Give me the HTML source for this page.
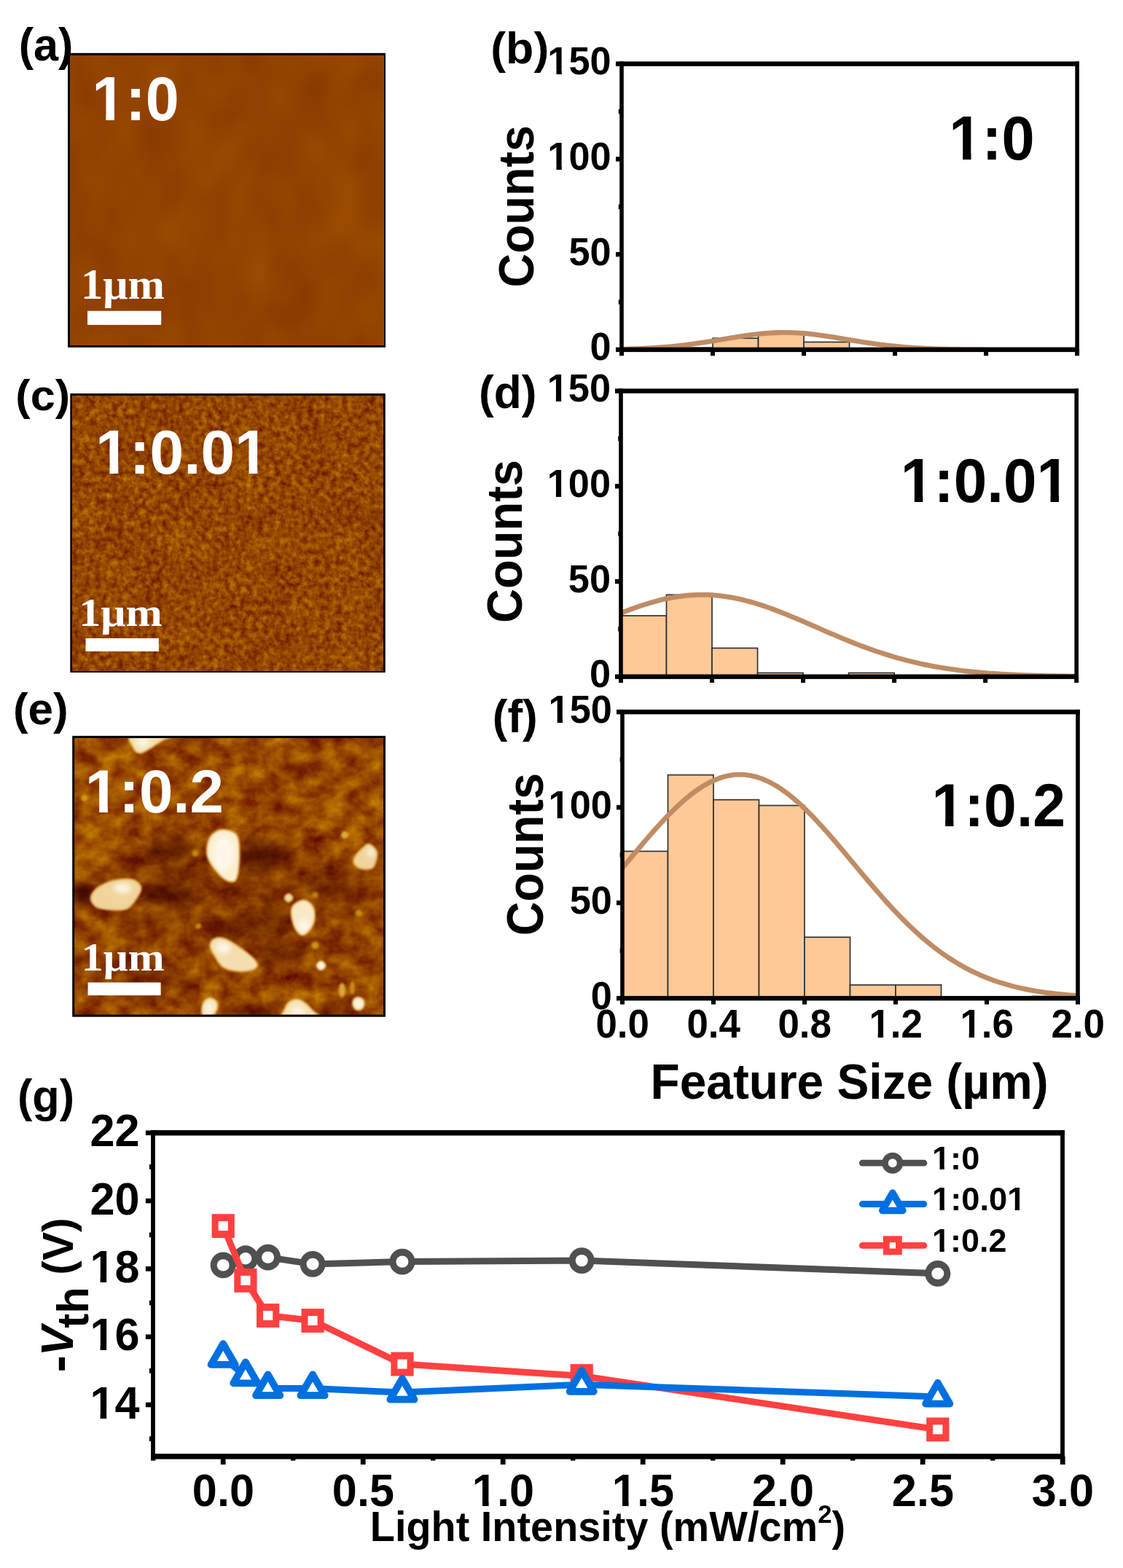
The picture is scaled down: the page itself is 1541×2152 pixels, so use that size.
<!DOCTYPE html>
<html lang="en">
<head>
<meta charset="utf-8">
<title>AFM morphology, feature size histograms and threshold voltage vs light intensity</title>
<style>
html,body{margin:0;padding:0;background:#fff;}
body{width:1541px;height:2152px;overflow:hidden;font-family:"Liberation Sans",Arial,sans-serif;}
svg{display:block;}
text{font-kerning:none;}
</style>
</head>
<body>
<svg width="1541" height="2152" viewBox="0 0 1541 2152">
<rect x="0" y="0" width="1541" height="2152" fill="#fff"/>
<defs>
<filter id="nA" x="0" y="0" width="100%" height="100%" color-interpolation-filters="sRGB">
 <feTurbulence type="fractalNoise" baseFrequency="0.016 0.011" numOctaves="2" seed="7"/>
 <feColorMatrix type="matrix" values="0.11 0 0 0 0.520  0.10 0 0 0 0.210  0 0 0 0 0  0 0 0 0 1"/>
</filter>
<filter id="nC" x="0" y="0" width="100%" height="100%" color-interpolation-filters="sRGB">
 <feTurbulence type="fractalNoise" baseFrequency="0.13" numOctaves="3" seed="3" result="t1"/>
 <feTurbulence type="fractalNoise" baseFrequency="0.022" numOctaves="2" seed="8" result="t2"/>
 <feComposite in="t1" in2="t2" operator="arithmetic" k1="0" k2="0.78" k3="0.22" k4="0" result="t3"/>
 <feColorMatrix in="t3" type="matrix" values="0.54 0 0 0 0.308  0.60 0 0 0 -0.028  0.02 0 0 0 -0.005  0 0 0 0 1"/>
</filter>
<filter id="nE" x="0" y="0" width="100%" height="100%" color-interpolation-filters="sRGB">
 <feTurbulence type="fractalNoise" baseFrequency="0.036 0.042" numOctaves="4" seed="11" result="t1"/>
 <feColorMatrix in="t1" type="matrix" values="0.50 0 0 0 0.340  0.60 0 0 0 -0.026  0.02 0 0 0 -0.01  0 0 0 0 1"/>
</filter>
<filter id="bl" x="-30%" y="-30%" width="160%" height="160%"><feGaussianBlur stdDeviation="1.8"/></filter>
<filter id="bl1" x="-30%" y="-30%" width="160%" height="160%"><feGaussianBlur stdDeviation="1.5"/></filter>
<filter id="bl3" x="-50%" y="-50%" width="200%" height="200%"><feGaussianBlur stdDeviation="3"/></filter>
<filter id="bl2" x="-150%" y="-150%" width="400%" height="400%"><feGaussianBlur stdDeviation="8"/></filter>
<clipPath id="cE"><rect x="102.2" y="1012.9" width="423.8" height="379.7"/></clipPath>
</defs>
<rect x="93" y="72.8" width="436" height="404" fill="#000"/>
<rect x="96.5" y="76.3" width="429.6" height="397.6" fill="#934300"/>
<rect x="96.5" y="76.3" width="429.6" height="397.6" fill="#934300" filter="url(#nA)"/>
<clipPath id="k1"><path clip-rule="evenodd" d="M-50,-101.92 H254.79 V42.46 H-50 Z M3.48,-10.53 H19.7 V1.66 H3.48 Z M31.6,-10.53 H46.74 V1.66 H31.6 Z"/></clipPath><text transform="translate(126.21,165.15) scale(0.9737,1)" clip-path="url(#k1)" font-family="Liberation Sans, Arial, Helvetica, sans-serif" font-weight="bold" font-size="84.93" fill="#fff">1:0</text>
<text transform="translate(110.96,409.82) scale(1.0191,1)" font-family="Liberation Serif, Times New Roman, serif" font-weight="bold" font-size="59.42" fill="#fff">1μm</text>
<rect x="120" y="426.7" width="101.2" height="19.2" fill="#fff"/>
<rect x="96.3" y="540" width="432.5" height="383" fill="#000"/>
<rect x="99.8" y="543.5" width="426.1" height="376.6" fill="#9c4e04"/>
<rect x="99.8" y="543.5" width="426.1" height="376.6" fill="#9c4e04" filter="url(#nC)"/>
<clipPath id="k2"><path clip-rule="evenodd" d="M-50,-101.75 H508.73 V42.39 H-50 Z M3.48,-10.52 H19.67 V1.66 H3.48 Z M31.55,-10.52 H46.66 V1.66 H31.55 Z M196.74,-10.52 H212.92 V1.66 H196.74 Z M224.81,-10.52 H239.92 V1.66 H224.81 Z"/></clipPath><text transform="translate(131.03,650.45) scale(0.9888,1)" clip-path="url(#k2)" font-family="Liberation Sans, Arial, Helvetica, sans-serif" font-weight="bold" font-size="84.79" fill="#fff">1:0.01</text>
<text transform="translate(108.17,859.3) scale(1.0837,1)" font-family="Liberation Serif, Times New Roman, serif" font-weight="bold" font-size="55.72" fill="#fff">1μm</text>
<rect x="117.5" y="876" width="100.4" height="18" fill="#fff"/>
<rect x="99.2" y="1009.9" width="429.8" height="385.7" fill="#000"/>
<g clip-path="url(#cE)" style="isolation:isolate">
<rect x="102.2" y="1012.9" width="423.8" height="379.7" fill="#984a02"/>
<rect x="102.2" y="1012.9" width="423.8" height="379.7" fill="#984a02" filter="url(#nE)"/>
<ellipse cx="112" cy="1228" rx="13" ry="19" fill="#b47c48" opacity="1.0" filter="url(#bl2)" style="mix-blend-mode:multiply"/>
<ellipse cx="112" cy="1228" rx="11" ry="15" fill="#b47c48" opacity="1.0" filter="url(#bl2)" style="mix-blend-mode:multiply"/>
<ellipse cx="521.5" cy="1177" rx="5" ry="13" fill="#b47c48" opacity="1.0" filter="url(#bl2)" style="mix-blend-mode:multiply"/>
<ellipse cx="521.5" cy="1177" rx="4" ry="10" fill="#b47c48" opacity="1.0" filter="url(#bl2)" style="mix-blend-mode:multiply"/>
<ellipse cx="367" cy="1171" rx="28" ry="22" fill="#b47c48" opacity="0.85" filter="url(#bl2)" style="mix-blend-mode:multiply"/>
<ellipse cx="376" cy="1260" rx="20" ry="13" fill="#b47c48" opacity="0.8" filter="url(#bl2)" style="mix-blend-mode:multiply"/>
<ellipse cx="391" cy="1313" rx="36" ry="16" fill="#b47c48" opacity="0.9" filter="url(#bl2)" style="mix-blend-mode:multiply"/>
<ellipse cx="343" cy="1386" rx="40" ry="8" fill="#b47c48" opacity="0.9" filter="url(#bl2)" style="mix-blend-mode:multiply"/>
<ellipse cx="457" cy="1385" rx="22" ry="9" fill="#b47c48" opacity="0.8" filter="url(#bl2)" style="mix-blend-mode:multiply"/>
<ellipse cx="261" cy="1019" rx="27" ry="6" fill="#b47c48" opacity="0.8" filter="url(#bl2)" style="mix-blend-mode:multiply"/>
<ellipse cx="230" cy="1163" rx="30" ry="22" fill="#b47c48" opacity="0.9" filter="url(#bl2)" style="mix-blend-mode:multiply"/>
<ellipse cx="232" cy="1228" rx="37" ry="16" fill="#b47c48" opacity="0.9" filter="url(#bl2)" style="mix-blend-mode:multiply"/>
<ellipse cx="345" cy="1178" rx="14" ry="22" fill="#b47c48" opacity="0.7" filter="url(#bl2)" style="mix-blend-mode:multiply"/>
<ellipse cx="330" cy="1273" rx="28" ry="14" fill="#b47c48" opacity="0.6" filter="url(#bl2)" style="mix-blend-mode:multiply"/>
<ellipse cx="415" cy="1058" rx="22" ry="10" fill="#b47c48" opacity="0.5" filter="url(#bl2)" style="mix-blend-mode:multiply"/>
<ellipse cx="190" cy="1340" rx="70" ry="40" fill="#b47c48" opacity="0.35" filter="url(#bl2)" style="mix-blend-mode:multiply"/>
<ellipse cx="470" cy="1300" rx="40" ry="12" fill="#b47c48" opacity="0.4" filter="url(#bl2)" style="mix-blend-mode:multiply"/>
<ellipse cx="455" cy="1215" rx="36" ry="12" fill="#b47c48" opacity="0.5" filter="url(#bl2)" style="mix-blend-mode:multiply"/>
<ellipse cx="250" cy="1352" rx="30" ry="9" fill="#b47c48" opacity="0.4" filter="url(#bl2)" style="mix-blend-mode:multiply"/>
<ellipse cx="310" cy="1225" rx="200" ry="75" fill="#b47c48" opacity="0.4" filter="url(#bl2)" style="mix-blend-mode:multiply"/>
<ellipse cx="120" cy="1165" rx="20" ry="34" fill="#4a3000" opacity="0.7" filter="url(#bl2)" style="mix-blend-mode:screen"/>
<ellipse cx="150" cy="1085" rx="40" ry="40" fill="#4a3000" opacity="0.3" filter="url(#bl2)" style="mix-blend-mode:screen"/>
<ellipse cx="450" cy="1090" rx="60" ry="30" fill="#4a3000" opacity="0.15" filter="url(#bl2)" style="mix-blend-mode:screen"/>
<ellipse cx="205" cy="1262" rx="44" ry="12" fill="#4a3000" opacity="0.25" filter="url(#bl2)" style="mix-blend-mode:screen"/>
<ellipse cx="480" cy="1250" rx="30" ry="22" fill="#4a3000" opacity="0.2" filter="url(#bl2)" style="mix-blend-mode:screen"/>
<ellipse cx="340" cy="1100" rx="60" ry="20" fill="#4a3000" opacity="0.12" filter="url(#bl2)" style="mix-blend-mode:screen"/>
<ellipse cx="410" cy="1210" rx="40" ry="12" fill="#4a3000" opacity="0.25" filter="url(#bl2)" style="mix-blend-mode:screen"/>
<ellipse cx="473.2" cy="1146" rx="5" ry="5" fill="#e0a840" filter="url(#bl)"/>
<ellipse cx="492.3" cy="1253.3" rx="4.5" ry="4.5" fill="#c88c0c" filter="url(#bl)"/>
<ellipse cx="432.5" cy="1228.6" rx="4" ry="4" fill="#c08400" filter="url(#bl)"/>
<ellipse cx="432.6" cy="1297.5" rx="5" ry="5" fill="#d09414" filter="url(#bl)"/>
<ellipse cx="469.4" cy="1358.8" rx="4.5" ry="10" fill="#dca83c" filter="url(#bl)"/>
<ellipse cx="483.4" cy="1355.3" rx="3.5" ry="9" fill="#c88c14" filter="url(#bl)"/>
<ellipse cx="116" cy="1095.2" rx="4.5" ry="4.5" fill="#d49818" filter="url(#bl)"/>
<ellipse cx="272" cy="1271" rx="4" ry="4" fill="#c48808" filter="url(#bl)"/>
<ellipse cx="268" cy="1171" rx="4.5" ry="4.5" fill="#c48808" filter="url(#bl)"/>
<path d="M180.9,1009 C189.22,1006.17 226.55,1007.83 233.4,1009 C240.25,1010.17 226.9,1012.92 222,1016 C217.1,1019.08 209.1,1024.67 204,1027.5 C198.9,1030.33 194.82,1033.25 191.4,1033 C187.98,1032.75 185.25,1030 183.5,1026 C181.75,1022 172.58,1011.83 180.9,1009 Z" fill="#dca040" stroke="#dca040" stroke-width="3" stroke-linejoin="round" filter="url(#bl)"/>
<path d="M180.9,1009 C189.22,1006.17 226.55,1007.83 233.4,1009 C240.25,1010.17 226.9,1012.92 222,1016 C217.1,1019.08 209.1,1024.67 204,1027.5 C198.9,1030.33 194.82,1033.25 191.4,1033 C187.98,1032.75 185.25,1030 183.5,1026 C181.75,1022 172.58,1011.83 180.9,1009 Z" fill="#f4e0b0" filter="url(#bl1)"/>
<ellipse cx="196" cy="1019" rx="9" ry="7" fill="#fffaf0" opacity="0.8" filter="url(#bl3)"/>
<path d="M290.7,1146.9 C294.22,1142.83 300.18,1139.3 305.8,1139.3 C311.42,1139.3 320.73,1141.13 324.4,1146.9 C328.07,1152.67 327.8,1164.35 327.8,1173.9 C327.8,1183.45 326.37,1198.3 324.4,1204.2 C322.43,1210.1 319.65,1209.85 316,1209.3 C312.35,1208.75 307.28,1205.68 302.5,1200.9 C297.72,1196.12 290.27,1186.8 287.3,1180.6 C284.33,1174.4 284.13,1169.32 284.7,1163.7 C285.27,1158.08 287.18,1150.97 290.7,1146.9 Z" fill="#dca040" stroke="#dca040" stroke-width="3" stroke-linejoin="round" filter="url(#bl)"/>
<path d="M290.7,1146.9 C294.22,1142.83 300.18,1139.3 305.8,1139.3 C311.42,1139.3 320.73,1141.13 324.4,1146.9 C328.07,1152.67 327.8,1164.35 327.8,1173.9 C327.8,1183.45 326.37,1198.3 324.4,1204.2 C322.43,1210.1 319.65,1209.85 316,1209.3 C312.35,1208.75 307.28,1205.68 302.5,1200.9 C297.72,1196.12 290.27,1186.8 287.3,1180.6 C284.33,1174.4 284.13,1169.32 284.7,1163.7 C285.27,1158.08 287.18,1150.97 290.7,1146.9 Z" fill="#fbeed0" filter="url(#bl1)"/>
<ellipse cx="307" cy="1172" rx="13" ry="24" fill="#fffaf0" opacity="0.8" filter="url(#bl3)"/>
<path d="M125.3,1232.9 C125.3,1228.68 128.63,1223.33 133.7,1219.4 C138.77,1215.47 147.82,1211.27 155.7,1209.3 C163.58,1207.33 174.82,1206.2 181,1207.6 C187.18,1209 191.68,1213.77 192.8,1217.7 C193.92,1221.63 190.8,1226.42 187.7,1231.2 C184.6,1235.98 179.82,1243.58 174.2,1246.4 C168.58,1249.22 160.75,1248.38 154,1248.1 C147.25,1247.82 138.48,1247.23 133.7,1244.7 C128.92,1242.17 125.3,1237.12 125.3,1232.9 Z" fill="#dca040" stroke="#dca040" stroke-width="3" stroke-linejoin="round" filter="url(#bl)"/>
<path d="M125.3,1232.9 C125.3,1228.68 128.63,1223.33 133.7,1219.4 C138.77,1215.47 147.82,1211.27 155.7,1209.3 C163.58,1207.33 174.82,1206.2 181,1207.6 C187.18,1209 191.68,1213.77 192.8,1217.7 C193.92,1221.63 190.8,1226.42 187.7,1231.2 C184.6,1235.98 179.82,1243.58 174.2,1246.4 C168.58,1249.22 160.75,1248.38 154,1248.1 C147.25,1247.82 138.48,1247.23 133.7,1244.7 C128.92,1242.17 125.3,1237.12 125.3,1232.9 Z" fill="#f0d49c" filter="url(#bl1)"/>
<ellipse cx="168" cy="1219" rx="12" ry="7" fill="#fffaf0" opacity="0.8" filter="url(#bl3)"/>
<path d="M506.5,1159 C509.58,1159.83 514.87,1165.7 516.3,1169.5 C517.73,1173.3 516.13,1178.22 515.1,1181.8 C514.07,1185.38 513.38,1189.37 510.1,1191 C506.82,1192.63 499.4,1192.72 495.4,1191.6 C491.4,1190.48 487.33,1186.97 486.1,1184.3 C484.87,1181.63 486.05,1178.9 488,1175.6 C489.95,1172.3 494.72,1167.27 497.8,1164.5 C500.88,1161.73 503.42,1158.17 506.5,1159 Z" fill="#dca040" stroke="#dca040" stroke-width="3" stroke-linejoin="round" filter="url(#bl)"/>
<path d="M506.5,1159 C509.58,1159.83 514.87,1165.7 516.3,1169.5 C517.73,1173.3 516.13,1178.22 515.1,1181.8 C514.07,1185.38 513.38,1189.37 510.1,1191 C506.82,1192.63 499.4,1192.72 495.4,1191.6 C491.4,1190.48 487.33,1186.97 486.1,1184.3 C484.87,1181.63 486.05,1178.9 488,1175.6 C489.95,1172.3 494.72,1167.27 497.8,1164.5 C500.88,1161.73 503.42,1158.17 506.5,1159 Z" fill="#f0d49c" filter="url(#bl1)"/>
<ellipse cx="508.9" cy="1169.5" rx="5" ry="6" fill="#fffaf0" opacity="0.8" filter="url(#bl3)"/>
<path d="M415.2,1236 C419.32,1235.38 423.63,1238.12 426.3,1241 C428.97,1243.88 430.78,1248.58 431.2,1253.3 C431.62,1258.02 431.27,1264.37 428.8,1269.3 C426.33,1274.23 420.1,1281.87 416.4,1282.9 C412.7,1283.93 409.17,1279.4 406.6,1275.5 C404.03,1271.6 401.83,1264.63 401,1259.5 C400.17,1254.37 399.23,1248.62 401.6,1244.7 C403.97,1240.78 411.08,1236.62 415.2,1236 Z" fill="#dca040" stroke="#dca040" stroke-width="3" stroke-linejoin="round" filter="url(#bl)"/>
<path d="M415.2,1236 C419.32,1235.38 423.63,1238.12 426.3,1241 C428.97,1243.88 430.78,1248.58 431.2,1253.3 C431.62,1258.02 431.27,1264.37 428.8,1269.3 C426.33,1274.23 420.1,1281.87 416.4,1282.9 C412.7,1283.93 409.17,1279.4 406.6,1275.5 C404.03,1271.6 401.83,1264.63 401,1259.5 C400.17,1254.37 399.23,1248.62 401.6,1244.7 C403.97,1240.78 411.08,1236.62 415.2,1236 Z" fill="#f8e8c4" filter="url(#bl1)"/>
<ellipse cx="416" cy="1270" rx="8" ry="8" fill="#fffaf0" opacity="0.8" filter="url(#bl3)"/>
<path d="M295,1288.8 C298.37,1287.48 302.67,1286.98 309.1,1289.6 C315.53,1292.22 326.6,1299.38 333.6,1304.5 C340.6,1309.62 348.47,1316.2 351.1,1320.3 C353.73,1324.4 352.9,1327.05 349.4,1329.1 C345.9,1331.15 337.12,1332.9 330.1,1332.6 C323.08,1332.3 313.15,1330.82 307.3,1327.3 C301.45,1323.78 298.07,1316.47 295,1311.5 C291.93,1306.53 288.9,1301.28 288.9,1297.5 C288.9,1293.72 291.63,1290.12 295,1288.8 Z" fill="#dca040" stroke="#dca040" stroke-width="3" stroke-linejoin="round" filter="url(#bl)"/>
<path d="M295,1288.8 C298.37,1287.48 302.67,1286.98 309.1,1289.6 C315.53,1292.22 326.6,1299.38 333.6,1304.5 C340.6,1309.62 348.47,1316.2 351.1,1320.3 C353.73,1324.4 352.9,1327.05 349.4,1329.1 C345.9,1331.15 337.12,1332.9 330.1,1332.6 C323.08,1332.3 313.15,1330.82 307.3,1327.3 C301.45,1323.78 298.07,1316.47 295,1311.5 C291.93,1306.53 288.9,1301.28 288.9,1297.5 C288.9,1293.72 291.63,1290.12 295,1288.8 Z" fill="#f4deb0" filter="url(#bl1)"/>
<ellipse cx="306" cy="1301" rx="10" ry="8" fill="#fffaf0" opacity="0.8" filter="url(#bl3)"/>
<path d="M287.7,1370.2 C290.28,1370.03 294.28,1372.03 296,1374 C297.72,1375.97 298.33,1379.17 298,1382 C297.67,1384.83 295.83,1388.67 294,1391 C292.17,1393.33 289.33,1395.17 287,1396 C284.67,1396.83 281.58,1397.67 280,1396 C278.42,1394.33 277.42,1389.5 277.5,1386 C277.58,1382.5 278.8,1377.63 280.5,1375 C282.2,1372.37 285.12,1370.37 287.7,1370.2 Z" fill="#dca040" stroke="#dca040" stroke-width="3" stroke-linejoin="round" filter="url(#bl)"/>
<path d="M287.7,1370.2 C290.28,1370.03 294.28,1372.03 296,1374 C297.72,1375.97 298.33,1379.17 298,1382 C297.67,1384.83 295.83,1388.67 294,1391 C292.17,1393.33 289.33,1395.17 287,1396 C284.67,1396.83 281.58,1397.67 280,1396 C278.42,1394.33 277.42,1389.5 277.5,1386 C277.58,1382.5 278.8,1377.63 280.5,1375 C282.2,1372.37 285.12,1370.37 287.7,1370.2 Z" fill="#f6e4b8" filter="url(#bl1)"/>
<ellipse cx="287" cy="1384" rx="5" ry="7" fill="#fffaf0" opacity="0.8" filter="url(#bl3)"/>
<path d="M389.7,1398 C382.2,1396 389.83,1389.67 391,1386 C392.17,1382.33 394,1378.33 396.7,1376 C399.4,1373.67 403.7,1371.93 407.2,1372 C410.7,1372.07 414.2,1373.92 417.7,1376.4 C421.2,1378.88 425.15,1383.3 428.2,1386.9 C431.25,1390.5 442.42,1396.15 436,1398 C429.58,1399.85 397.2,1400 389.7,1398 Z" fill="#dca040" stroke="#dca040" stroke-width="3" stroke-linejoin="round" filter="url(#bl)"/>
<path d="M389.7,1398 C382.2,1396 389.83,1389.67 391,1386 C392.17,1382.33 394,1378.33 396.7,1376 C399.4,1373.67 403.7,1371.93 407.2,1372 C410.7,1372.07 414.2,1373.92 417.7,1376.4 C421.2,1378.88 425.15,1383.3 428.2,1386.9 C431.25,1390.5 442.42,1396.15 436,1398 C429.58,1399.85 397.2,1400 389.7,1398 Z" fill="#f6e2b4" filter="url(#bl1)"/>
<ellipse cx="408" cy="1388" rx="10" ry="6" fill="#fffaf0" opacity="0.8" filter="url(#bl3)"/>
<path d="M491.6,1369.2 C493.67,1369.37 497.23,1371.03 498.4,1373 C499.57,1374.97 499.33,1378.93 498.6,1381 C497.87,1383.07 495.77,1384.8 494,1385.4 C492.23,1386 489.57,1385.83 488,1384.6 C486.43,1383.37 484.93,1380.1 484.6,1378 C484.27,1375.9 484.83,1373.47 486,1372 C487.17,1370.53 489.53,1369.03 491.6,1369.2 Z" fill="#dca040" stroke="#dca040" stroke-width="3" stroke-linejoin="round" filter="url(#bl)"/>
<path d="M491.6,1369.2 C493.67,1369.37 497.23,1371.03 498.4,1373 C499.57,1374.97 499.33,1378.93 498.6,1381 C497.87,1383.07 495.77,1384.8 494,1385.4 C492.23,1386 489.57,1385.83 488,1384.6 C486.43,1383.37 484.93,1380.1 484.6,1378 C484.27,1375.9 484.83,1373.47 486,1372 C487.17,1370.53 489.53,1369.03 491.6,1369.2 Z" fill="#faecd0" filter="url(#bl1)"/>
<ellipse cx="491.6" cy="1377" rx="3.5" ry="4.5" fill="#fffaf0" opacity="0.8" filter="url(#bl3)"/>
<path d="M440.5,1319.6 C442.37,1319.6 446.1,1323.33 446.1,1325.2 C446.1,1327.07 442.37,1330.8 440.5,1330.8 C438.63,1330.8 434.9,1327.07 434.9,1325.2 C434.9,1323.33 438.63,1319.6 440.5,1319.6 Z" fill="#dca040" stroke="#dca040" stroke-width="3" stroke-linejoin="round" filter="url(#bl)"/>
<path d="M440.5,1319.6 C442.37,1319.6 446.1,1323.33 446.1,1325.2 C446.1,1327.07 442.37,1330.8 440.5,1330.8 C438.63,1330.8 434.9,1327.07 434.9,1325.2 C434.9,1323.33 438.63,1319.6 440.5,1319.6 Z" fill="#fdf4e0" filter="url(#bl1)"/>
<ellipse cx="440.5" cy="1325.2" rx="3" ry="3" fill="#fffaf0" opacity="0.8" filter="url(#bl3)"/>
<path d="M396.1,1227.3 C397.77,1227.3 401.1,1230.63 401.1,1232.3 C401.1,1233.97 397.77,1237.3 396.1,1237.3 C394.43,1237.3 391.1,1233.97 391.1,1232.3 C391.1,1230.63 394.43,1227.3 396.1,1227.3 Z" fill="#dca040" stroke="#dca040" stroke-width="3" stroke-linejoin="round" filter="url(#bl)"/>
<path d="M396.1,1227.3 C397.77,1227.3 401.1,1230.63 401.1,1232.3 C401.1,1233.97 397.77,1237.3 396.1,1237.3 C394.43,1237.3 391.1,1233.97 391.1,1232.3 C391.1,1230.63 394.43,1227.3 396.1,1227.3 Z" fill="#f0d498" filter="url(#bl1)"/>
<ellipse cx="396.1" cy="1232.3" rx="2" ry="2" fill="#fffaf0" opacity="0.8" filter="url(#bl3)"/>
</g>
<clipPath id="k3"><path clip-rule="evenodd" d="M-50,-99.72 H415.49 V41.55 H-50 Z M3.41,-10.31 H19.27 V1.62 H3.41 Z M30.92,-10.31 H45.73 V1.62 H30.92 Z"/></clipPath><text transform="translate(116.86,1115.47) scale(1.0032,1)" clip-path="url(#k3)" font-family="Liberation Sans, Arial, Helvetica, sans-serif" font-weight="bold" font-size="83.1" fill="#fff">1:0.2</text>
<text transform="translate(111.8,1331.57) scale(1.1019,1)" font-family="Liberation Serif, Times New Roman, serif" font-weight="bold" font-size="54.45" fill="#fff">1μm</text>
<rect x="120.6" y="1348.4" width="100" height="17.7" fill="#fff"/>
<rect x="915.51" y="477.28" width="62.51" height="2.62" fill="#fec996" stroke="#2c3438" stroke-width="1.7"/>
<rect x="978.02" y="464.21" width="62.51" height="15.69" fill="#fec996" stroke="#2c3438" stroke-width="1.7"/>
<rect x="1040.53" y="456.36" width="62.51" height="23.54" fill="#fec996" stroke="#2c3438" stroke-width="1.7"/>
<rect x="1103.04" y="469.44" width="62.51" height="10.46" fill="#fec996" stroke="#2c3438" stroke-width="1.7"/>
<clipPath id="cpb"><rect x="853" y="87.6" width="625.1" height="392.3"/></clipPath>
<polyline clip-path="url(#cpb)" points="853,479.19 858.21,479.07 863.42,478.93 868.63,478.77 873.84,478.58 879.05,478.38 884.25,478.14 889.46,477.88 894.67,477.59 899.88,477.26 905.09,476.91 910.3,476.51 915.51,476.08 920.72,475.61 925.93,475.11 931.14,474.56 936.35,473.97 941.56,473.34 946.76,472.68 951.97,471.97 957.18,471.23 962.39,470.46 967.6,469.66 972.81,468.83 978.02,467.98 983.23,467.12 988.44,466.24 993.65,465.36 998.86,464.48 1004.07,463.61 1009.27,462.76 1014.48,461.93 1019.69,461.13 1024.9,460.37 1030.11,459.66 1035.32,459 1040.53,458.4 1045.74,457.87 1050.95,457.41 1056.16,457.03 1061.37,456.74 1066.58,456.52 1071.78,456.4 1076.99,456.36 1082.2,456.42 1087.41,456.56 1092.62,456.79 1097.83,457.1 1103.04,457.5 1108.25,457.97 1113.46,458.52 1118.67,459.13 1123.88,459.8 1129.09,460.52 1134.3,461.29 1139.5,462.09 1144.71,462.93 1149.92,463.78 1155.13,464.66 1160.34,465.54 1165.55,466.42 1170.76,467.29 1175.97,468.15 1181.18,469 1186.39,469.82 1191.6,470.62 1196.8,471.38 1202.01,472.12 1207.22,472.81 1212.43,473.47 1217.64,474.09 1222.85,474.67 1228.06,475.21 1233.27,475.71 1238.48,476.17 1243.69,476.59 1248.9,476.98 1254.11,477.33 1259.32,477.65 1264.52,477.93 1269.73,478.19 1274.94,478.42 1280.15,478.62 1285.36,478.8 1290.57,478.96 1295.78,479.1 1300.99,479.22 1306.2,479.32 1311.41,479.41 1316.62,479.49 1321.82,479.56 1327.03,479.61 1332.24,479.66 1337.45,479.7 1342.66,479.74 1347.87,479.77 1353.08,479.79 1358.29,479.81 1363.5,479.83 1368.71,479.84 1373.92,479.85 1379.13,479.86 1384.34,479.87 1389.54,479.88 1394.75,479.88 1399.96,479.88 1405.17,479.89 1410.38,479.89 1415.59,479.89 1420.8,479.89 1426.01,479.9 1431.22,479.9 1436.43,479.9 1441.64,479.9 1446.84,479.9 1452.05,479.9 1457.26,479.9 1462.47,479.9 1467.68,479.9 1472.89,479.9 1478.1,479.9" fill="none" stroke="#bf8c64" stroke-width="6.8" stroke-linejoin="round"/>
<rect x="850.2" y="84.4" width="5.6" height="398.7" fill="#000"/>
<rect x="1475.3" y="84.4" width="5.6" height="398.7" fill="#000"/>
<rect x="850.2" y="84.4" width="630.7" height="6.4" fill="#000"/>
<rect x="850.2" y="476.7" width="630.7" height="6.4" fill="#000"/>
<rect x="845" y="476.7" width="8" height="6.4" fill="#000"/>
<rect x="845" y="345.93" width="8" height="6.4" fill="#000"/>
<rect x="845" y="215.17" width="8" height="6.4" fill="#000"/>
<rect x="845" y="84.4" width="8" height="6.4" fill="#000"/>
<rect x="848.8" y="411.32" width="4.2" height="6.4" fill="#000"/>
<rect x="848.8" y="280.55" width="4.2" height="6.4" fill="#000"/>
<rect x="848.8" y="149.78" width="4.2" height="6.4" fill="#000"/>
<rect x="850" y="479.9" width="6" height="8.4" fill="#000"/>
<rect x="975.02" y="479.9" width="6" height="8.4" fill="#000"/>
<rect x="1100.04" y="479.9" width="6" height="8.4" fill="#000"/>
<rect x="1225.06" y="479.9" width="6" height="8.4" fill="#000"/>
<rect x="1350.08" y="479.9" width="6" height="8.4" fill="#000"/>
<rect x="1475.1" y="479.9" width="6" height="8.4" fill="#000"/>
<text transform="translate(809.52,494.3) scale(0.9720,1)" font-family="Liberation Sans, Arial, Helvetica, sans-serif" font-weight="bold" font-size="53.8" fill="#000">0</text>
<text transform="translate(780.43,363.53) scale(0.9720,1)" font-family="Liberation Sans, Arial, Helvetica, sans-serif" font-weight="bold" font-size="53.8" fill="#000">50</text>
<clipPath id="k4"><path clip-rule="evenodd" d="M-50,-64.56 H161.4 V26.9 H-50 Z M2.21,-6.67 H12.48 V1.05 H2.21 Z M20.02,-6.67 H29.61 V1.05 H20.02 Z"/></clipPath><text transform="translate(751.35,232.77) scale(0.9720,1)" clip-path="url(#k4)" font-family="Liberation Sans, Arial, Helvetica, sans-serif" font-weight="bold" font-size="53.8" fill="#000">100</text>
<clipPath id="k5"><path clip-rule="evenodd" d="M-50,-64.56 H161.4 V26.9 H-50 Z M2.21,-6.67 H12.48 V1.05 H2.21 Z M20.02,-6.67 H29.61 V1.05 H20.02 Z"/></clipPath><text transform="translate(751.35,102) scale(0.9720,1)" clip-path="url(#k5)" font-family="Liberation Sans, Arial, Helvetica, sans-serif" font-weight="bold" font-size="53.8" fill="#000">150</text>
<clipPath id="k6"><path clip-rule="evenodd" d="M-50,-101.24 H253.1 V42.18 H-50 Z M3.46,-10.46 H19.57 V1.65 H3.46 Z M31.39,-10.46 H46.43 V1.65 H31.39 Z"/></clipPath><text transform="translate(1302.32,218.76) scale(0.9625,1)" clip-path="url(#k6)" font-family="Liberation Sans, Arial, Helvetica, sans-serif" font-weight="bold" font-size="84.37" fill="#000">1:0</text>
<text transform="translate(732.21,394.48) rotate(-90) scale(0.9396,1)" font-family="Liberation Sans, Arial, Helvetica, sans-serif" font-weight="bold" font-size="68.73" fill="#000">Counts</text>
<rect x="852" y="845.05" width="62.52" height="83.65" fill="#fec996" stroke="#2c3438" stroke-width="1.7"/>
<rect x="914.52" y="816.3" width="62.52" height="112.4" fill="#fec996" stroke="#2c3438" stroke-width="1.7"/>
<rect x="977.04" y="889.49" width="62.52" height="39.21" fill="#fec996" stroke="#2c3438" stroke-width="1.7"/>
<rect x="1039.56" y="923.47" width="62.52" height="5.23" fill="#fec996" stroke="#2c3438" stroke-width="1.7"/>
<rect x="1164.6" y="923.47" width="62.52" height="5.23" fill="#fec996" stroke="#2c3438" stroke-width="1.7"/>
<clipPath id="cpd"><rect x="852" y="536.6" width="625.2" height="392.1"/></clipPath>
<polyline clip-path="url(#cpd)" points="852,841.46 857.21,839.42 862.42,837.43 867.63,835.49 872.84,833.63 878.05,831.83 883.26,830.11 888.47,828.46 893.68,826.91 898.89,825.44 904.1,824.07 909.31,822.8 914.52,821.64 919.73,820.58 924.94,819.63 930.15,818.8 935.36,818.08 940.57,817.48 945.78,817 950.99,816.65 956.2,816.41 961.41,816.31 966.62,816.32 971.83,816.47 977.04,816.73 982.25,817.12 987.46,817.63 992.67,818.27 997.88,819.02 1003.09,819.88 1008.3,820.86 1013.51,821.95 1018.72,823.15 1023.93,824.45 1029.14,825.84 1034.35,827.34 1039.56,828.92 1044.77,830.58 1049.98,832.32 1055.19,834.14 1060.4,836.03 1065.61,837.98 1070.82,839.99 1076.03,842.05 1081.24,844.15 1086.45,846.3 1091.66,848.48 1096.87,850.69 1102.08,852.92 1107.29,855.17 1112.5,857.44 1117.71,859.71 1122.92,861.98 1128.13,864.25 1133.34,866.51 1138.55,868.76 1143.76,870.99 1148.97,873.2 1154.18,875.38 1159.39,877.54 1164.6,879.66 1169.81,881.75 1175.02,883.8 1180.23,885.8 1185.44,887.76 1190.65,889.68 1195.86,891.55 1201.07,893.37 1206.28,895.13 1211.49,896.84 1216.7,898.5 1221.91,900.11 1227.12,901.66 1232.33,903.15 1237.54,904.59 1242.75,905.97 1247.96,907.3 1253.17,908.57 1258.38,909.79 1263.59,910.95 1268.8,912.06 1274.01,913.12 1279.22,914.13 1284.43,915.08 1289.64,915.99 1294.85,916.85 1300.06,917.67 1305.27,918.44 1310.48,919.17 1315.69,919.85 1320.9,920.5 1326.11,921.1 1331.32,921.67 1336.53,922.21 1341.74,922.71 1346.95,923.17 1352.16,923.61 1357.37,924.02 1362.58,924.4 1367.79,924.75 1373,925.08 1378.21,925.39 1383.42,925.67 1388.63,925.93 1393.84,926.17 1399.05,926.39 1404.26,926.6 1409.47,926.79 1414.68,926.96 1419.89,927.12 1425.1,927.27 1430.31,927.41 1435.52,927.53 1440.73,927.64 1445.94,927.74 1451.15,927.84 1456.36,927.92 1461.57,928 1466.78,928.07 1471.99,928.14 1477.2,928.2" fill="none" stroke="#bf8c64" stroke-width="6.8" stroke-linejoin="round"/>
<rect x="849.2" y="533.4" width="5.6" height="398.5" fill="#000"/>
<rect x="1474.4" y="533.4" width="5.6" height="398.5" fill="#000"/>
<rect x="849.2" y="533.4" width="630.8" height="6.4" fill="#000"/>
<rect x="849.2" y="925.5" width="630.8" height="6.4" fill="#000"/>
<rect x="844" y="925.5" width="8" height="6.4" fill="#000"/>
<rect x="844" y="794.8" width="8" height="6.4" fill="#000"/>
<rect x="844" y="664.1" width="8" height="6.4" fill="#000"/>
<rect x="844" y="533.4" width="8" height="6.4" fill="#000"/>
<rect x="848.2" y="860.15" width="3.8" height="6.4" fill="#000"/>
<rect x="848.2" y="729.45" width="3.8" height="6.4" fill="#000"/>
<rect x="848.2" y="598.75" width="3.8" height="6.4" fill="#000"/>
<rect x="849" y="928.7" width="6" height="8.4" fill="#000"/>
<rect x="974.04" y="928.7" width="6" height="8.4" fill="#000"/>
<rect x="1099.08" y="928.7" width="6" height="8.4" fill="#000"/>
<rect x="1224.12" y="928.7" width="6" height="8.4" fill="#000"/>
<rect x="1349.16" y="928.7" width="6" height="8.4" fill="#000"/>
<rect x="1474.2" y="928.7" width="6" height="8.4" fill="#000"/>
<text transform="translate(808.92,943.3) scale(0.9720,1)" font-family="Liberation Sans, Arial, Helvetica, sans-serif" font-weight="bold" font-size="53.8" fill="#000">0</text>
<text transform="translate(779.83,812.6) scale(0.9720,1)" font-family="Liberation Sans, Arial, Helvetica, sans-serif" font-weight="bold" font-size="53.8" fill="#000">50</text>
<clipPath id="k7"><path clip-rule="evenodd" d="M-50,-64.56 H161.4 V26.9 H-50 Z M2.21,-6.67 H12.48 V1.05 H2.21 Z M20.02,-6.67 H29.61 V1.05 H20.02 Z"/></clipPath><text transform="translate(750.75,681.9) scale(0.9720,1)" clip-path="url(#k7)" font-family="Liberation Sans, Arial, Helvetica, sans-serif" font-weight="bold" font-size="53.8" fill="#000">100</text>
<clipPath id="k8"><path clip-rule="evenodd" d="M-50,-64.56 H161.4 V26.9 H-50 Z M2.21,-6.67 H12.48 V1.05 H2.21 Z M20.02,-6.67 H29.61 V1.05 H20.02 Z"/></clipPath><text transform="translate(750.75,551.2) scale(0.9720,1)" clip-path="url(#k8)" font-family="Liberation Sans, Arial, Helvetica, sans-serif" font-weight="bold" font-size="53.8" fill="#000">150</text>
<clipPath id="k9"><path clip-rule="evenodd" d="M-50,-102.08 H510.42 V42.54 H-50 Z M3.49,-10.55 H19.73 V1.66 H3.49 Z M31.65,-10.55 H46.81 V1.66 H31.65 Z M197.39,-10.55 H213.63 V1.66 H197.39 Z M225.55,-10.55 H240.71 V1.66 H225.55 Z"/></clipPath><text transform="translate(1235.87,689.35) scale(0.9627,1)" clip-path="url(#k9)" font-family="Liberation Sans, Arial, Helvetica, sans-serif" font-weight="bold" font-size="85.07" fill="#000">1:0.01</text>
<text transform="translate(715.51,855) rotate(-90) scale(0.9370,1)" font-family="Liberation Sans, Arial, Helvetica, sans-serif" font-weight="bold" font-size="69.44" fill="#000">Counts</text>
<rect x="854" y="1168.36" width="62.5" height="201.74" fill="#fec996" stroke="#2c3438" stroke-width="1.7"/>
<rect x="916.5" y="1063.56" width="62.5" height="306.54" fill="#fec996" stroke="#2c3438" stroke-width="1.7"/>
<rect x="979" y="1097.62" width="62.5" height="272.48" fill="#fec996" stroke="#2c3438" stroke-width="1.7"/>
<rect x="1041.5" y="1105.48" width="62.5" height="264.62" fill="#fec996" stroke="#2c3438" stroke-width="1.7"/>
<rect x="1104" y="1286.26" width="62.5" height="83.84" fill="#fec996" stroke="#2c3438" stroke-width="1.7"/>
<rect x="1166.5" y="1351.76" width="62.5" height="18.34" fill="#fec996" stroke="#2c3438" stroke-width="1.7"/>
<rect x="1229" y="1351.76" width="62.5" height="18.34" fill="#fec996" stroke="#2c3438" stroke-width="1.7"/>
<rect x="1416.5" y="1367.48" width="62.5" height="2.62" fill="#fec996" stroke="#2c3438" stroke-width="1.7"/>
<clipPath id="cpf"><rect x="854" y="977.1" width="625" height="393"/></clipPath>
<polyline clip-path="url(#cpf)" points="854,1191.36 859.21,1185.11 864.42,1178.85 869.62,1172.61 874.83,1166.39 880.04,1160.21 885.25,1154.09 890.46,1148.04 895.67,1142.08 900.88,1136.22 906.08,1130.48 911.29,1124.88 916.5,1119.44 921.71,1114.16 926.92,1109.06 932.12,1104.16 937.33,1099.48 942.54,1095.03 947.75,1090.81 952.96,1086.86 958.17,1083.17 963.38,1079.76 968.58,1076.64 973.79,1073.83 979,1071.32 984.21,1069.13 989.42,1067.27 994.62,1065.74 999.83,1064.55 1005.04,1063.7 1010.25,1063.2 1015.46,1063.04 1020.67,1063.22 1025.88,1063.76 1031.08,1064.63 1036.29,1065.85 1041.5,1067.41 1046.71,1069.3 1051.92,1071.51 1057.12,1074.04 1062.33,1076.88 1067.54,1080.02 1072.75,1083.45 1077.96,1087.16 1083.17,1091.14 1088.38,1095.37 1093.58,1099.85 1098.79,1104.55 1104,1109.46 1109.21,1114.57 1114.42,1119.87 1119.62,1125.33 1124.83,1130.94 1130.04,1136.68 1135.25,1142.55 1140.46,1148.52 1145.67,1154.57 1150.88,1160.7 1156.08,1166.88 1161.29,1173.1 1166.5,1179.35 1171.71,1185.61 1176.92,1191.86 1182.12,1198.1 1187.33,1204.3 1192.54,1210.46 1197.75,1216.57 1202.96,1222.61 1208.17,1228.57 1213.38,1234.44 1218.58,1240.22 1223.79,1245.89 1229,1251.45 1234.21,1256.89 1239.42,1262.19 1244.62,1267.37 1249.83,1272.41 1255.04,1277.31 1260.25,1282.06 1265.46,1286.66 1270.67,1291.11 1275.88,1295.4 1281.08,1299.55 1286.29,1303.54 1291.5,1307.37 1296.71,1311.05 1301.92,1314.58 1307.12,1317.95 1312.33,1321.18 1317.54,1324.25 1322.75,1327.19 1327.96,1329.98 1333.17,1332.63 1338.38,1335.14 1343.58,1337.53 1348.79,1339.78 1354,1341.91 1359.21,1343.92 1364.42,1345.82 1369.62,1347.6 1374.83,1349.28 1380.04,1350.85 1385.25,1352.32 1390.46,1353.7 1395.67,1354.99 1400.88,1356.2 1406.08,1357.32 1411.29,1358.36 1416.5,1359.33 1421.71,1360.24 1426.92,1361.07 1432.12,1361.85 1437.33,1362.57 1442.54,1363.23 1447.75,1363.84 1452.96,1364.4 1458.17,1364.92 1463.38,1365.4 1468.58,1365.84 1473.79,1366.24 1479,1366.61" fill="none" stroke="#bf8c64" stroke-width="6.8" stroke-linejoin="round"/>
<rect x="851.2" y="973.9" width="5.6" height="399.4" fill="#000"/>
<rect x="1476.2" y="973.9" width="5.6" height="399.4" fill="#000"/>
<rect x="851.2" y="973.9" width="630.6" height="6.4" fill="#000"/>
<rect x="851.2" y="1366.9" width="630.6" height="6.4" fill="#000"/>
<rect x="846" y="1366.9" width="8" height="6.4" fill="#000"/>
<rect x="846" y="1235.9" width="8" height="6.4" fill="#000"/>
<rect x="846" y="1104.9" width="8" height="6.4" fill="#000"/>
<rect x="846" y="973.9" width="8" height="6.4" fill="#000"/>
<rect x="850.7" y="1301.4" width="3.3" height="6.4" fill="#000"/>
<rect x="850.7" y="1170.4" width="3.3" height="6.4" fill="#000"/>
<rect x="850.7" y="1039.4" width="3.3" height="6.4" fill="#000"/>
<rect x="851" y="1370.1" width="6" height="8.4" fill="#000"/>
<rect x="976" y="1370.1" width="6" height="8.4" fill="#000"/>
<rect x="1101" y="1370.1" width="6" height="8.4" fill="#000"/>
<rect x="1226" y="1370.1" width="6" height="8.4" fill="#000"/>
<rect x="1351" y="1370.1" width="6" height="8.4" fill="#000"/>
<rect x="1476" y="1370.1" width="6" height="8.4" fill="#000"/>
<text transform="translate(810.72,1384.6) scale(0.9720,1)" font-family="Liberation Sans, Arial, Helvetica, sans-serif" font-weight="bold" font-size="53.8" fill="#000">0</text>
<text transform="translate(781.63,1253.6) scale(0.9720,1)" font-family="Liberation Sans, Arial, Helvetica, sans-serif" font-weight="bold" font-size="53.8" fill="#000">50</text>
<clipPath id="k10"><path clip-rule="evenodd" d="M-50,-64.56 H161.4 V26.9 H-50 Z M2.21,-6.67 H12.48 V1.05 H2.21 Z M20.02,-6.67 H29.61 V1.05 H20.02 Z"/></clipPath><text transform="translate(752.55,1122.6) scale(0.9720,1)" clip-path="url(#k10)" font-family="Liberation Sans, Arial, Helvetica, sans-serif" font-weight="bold" font-size="53.8" fill="#000">100</text>
<clipPath id="k11"><path clip-rule="evenodd" d="M-50,-64.56 H161.4 V26.9 H-50 Z M2.21,-6.67 H12.48 V1.05 H2.21 Z M20.02,-6.67 H29.61 V1.05 H20.02 Z"/></clipPath><text transform="translate(752.55,991.6) scale(0.9720,1)" clip-path="url(#k11)" font-family="Liberation Sans, Arial, Helvetica, sans-serif" font-weight="bold" font-size="53.8" fill="#000">150</text>
<clipPath id="k12"><path clip-rule="evenodd" d="M-50,-99.72 H415.49 V41.55 H-50 Z M3.41,-10.31 H19.27 V1.62 H3.41 Z M30.92,-10.31 H45.73 V1.62 H30.92 Z"/></clipPath><text transform="translate(1278.46,1133.77) scale(0.9694,1)" clip-path="url(#k12)" font-family="Liberation Sans, Arial, Helvetica, sans-serif" font-weight="bold" font-size="83.1" fill="#000">1:0.2</text>
<text transform="translate(745.2,1284.29) rotate(-90) scale(0.9302,1)" font-family="Liberation Sans, Arial, Helvetica, sans-serif" font-weight="bold" font-size="69.72" fill="#000">Counts</text>
<text transform="translate(817.43,1424.45) scale(0.9680,1)" font-family="Liberation Sans, Arial, Helvetica, sans-serif" font-weight="bold" font-size="54.65" fill="#000">0.0</text>
<text transform="translate(942.43,1424.45) scale(0.9680,1)" font-family="Liberation Sans, Arial, Helvetica, sans-serif" font-weight="bold" font-size="54.65" fill="#000">0.4</text>
<text transform="translate(1067.43,1424.45) scale(0.9680,1)" font-family="Liberation Sans, Arial, Helvetica, sans-serif" font-weight="bold" font-size="54.65" fill="#000">0.8</text>
<clipPath id="k13"><path clip-rule="evenodd" d="M-50,-65.58 H163.95 V27.32 H-50 Z M2.24,-6.78 H12.68 V1.07 H2.24 Z M20.33,-6.78 H30.07 V1.07 H20.33 Z"/></clipPath><text transform="translate(1192.43,1424.45) scale(0.9680,1)" clip-path="url(#k13)" font-family="Liberation Sans, Arial, Helvetica, sans-serif" font-weight="bold" font-size="54.65" fill="#000">1.2</text>
<clipPath id="k14"><path clip-rule="evenodd" d="M-50,-65.58 H163.95 V27.32 H-50 Z M2.24,-6.78 H12.68 V1.07 H2.24 Z M20.33,-6.78 H30.07 V1.07 H20.33 Z"/></clipPath><text transform="translate(1317.43,1424.45) scale(0.9680,1)" clip-path="url(#k14)" font-family="Liberation Sans, Arial, Helvetica, sans-serif" font-weight="bold" font-size="54.65" fill="#000">1.6</text>
<text transform="translate(1442.43,1424.45) scale(0.9680,1)" font-family="Liberation Sans, Arial, Helvetica, sans-serif" font-weight="bold" font-size="54.65" fill="#000">2.0</text>
<text transform="translate(892.52,1508.05) scale(0.9528,1)" font-family="Liberation Sans, Arial, Helvetica, sans-serif" font-weight="bold" font-size="69.05" fill="#000">Feature Size (µm)</text>
<text transform="translate(25.74,82.78) scale(0.9792,1)" font-family="Liberation Sans, Arial, Helvetica, sans-serif" font-weight="bold" font-size="62.46" fill="#000">(a)</text>
<text transform="translate(673.27,87.26) scale(1.0168,1)" font-family="Liberation Sans, Arial, Helvetica, sans-serif" font-weight="bold" font-size="61.6" fill="#000">(b)</text>
<text transform="translate(21.24,563.32) scale(1.0227,1)" font-family="Liberation Sans, Arial, Helvetica, sans-serif" font-weight="bold" font-size="59.89" fill="#000">(c)</text>
<text transform="translate(657.09,559.85) scale(1.0012,1)" font-family="Liberation Sans, Arial, Helvetica, sans-serif" font-weight="bold" font-size="62.14" fill="#000">(d)</text>
<text transform="translate(17.9,993.62) scale(1.0038,1)" font-family="Liberation Sans, Arial, Helvetica, sans-serif" font-weight="bold" font-size="61.82" fill="#000">(e)</text>
<text transform="translate(675.69,1004.76) scale(0.9945,1)" font-family="Liberation Sans, Arial, Helvetica, sans-serif" font-weight="bold" font-size="62.57" fill="#000">(f)</text>
<text transform="translate(23.94,1526.35) scale(0.9796,1)" font-family="Liberation Sans, Arial, Helvetica, sans-serif" font-weight="bold" font-size="62.55" fill="#000">(g)</text>
<polyline points="306.2,1736.4 336.92,1727.2 367.64,1725.6 429.08,1734.9 551.96,1731.6 798.2,1730.1 1286.8,1747.9" fill="none" stroke="#505050" stroke-width="9.0" stroke-linejoin="round"/>
<ellipse cx="306.2" cy="1736.4" rx="17.5" ry="17.9" fill="#505050"/>
<ellipse cx="306.2" cy="1736.4" rx="8.5" ry="8.2" fill="#fff"/>
<ellipse cx="336.92" cy="1727.2" rx="17.5" ry="17.9" fill="#505050"/>
<ellipse cx="336.92" cy="1727.2" rx="8.5" ry="8.2" fill="#fff"/>
<ellipse cx="367.64" cy="1725.6" rx="17.5" ry="17.9" fill="#505050"/>
<ellipse cx="367.64" cy="1725.6" rx="8.5" ry="8.2" fill="#fff"/>
<ellipse cx="429.08" cy="1734.9" rx="17.5" ry="17.9" fill="#505050"/>
<ellipse cx="429.08" cy="1734.9" rx="8.5" ry="8.2" fill="#fff"/>
<ellipse cx="551.96" cy="1731.6" rx="17.5" ry="17.9" fill="#505050"/>
<ellipse cx="551.96" cy="1731.6" rx="8.5" ry="8.2" fill="#fff"/>
<ellipse cx="798.2" cy="1730.1" rx="17.5" ry="17.9" fill="#505050"/>
<ellipse cx="798.2" cy="1730.1" rx="8.5" ry="8.2" fill="#fff"/>
<ellipse cx="1286.8" cy="1747.9" rx="17.5" ry="17.9" fill="#505050"/>
<ellipse cx="1286.8" cy="1747.9" rx="8.5" ry="8.2" fill="#fff"/>
<polyline points="306.2,1682.6 336.92,1757.4 367.64,1805.5 429.08,1812.5 551.96,1872.1 798.2,1888.5 1286.8,1961.9" fill="none" stroke="#ff4040" stroke-width="9.0" stroke-linejoin="round"/>
<rect x="290.6" y="1666.2" width="31.2" height="32.8" fill="#ff4040"/>
<rect x="299.6" y="1676.1" width="13.2" height="13" fill="#fff"/>
<rect x="321.32" y="1741" width="31.2" height="32.8" fill="#ff4040"/>
<rect x="330.32" y="1750.9" width="13.2" height="13" fill="#fff"/>
<rect x="352.04" y="1789.1" width="31.2" height="32.8" fill="#ff4040"/>
<rect x="361.04" y="1799" width="13.2" height="13" fill="#fff"/>
<rect x="413.48" y="1796.1" width="31.2" height="32.8" fill="#ff4040"/>
<rect x="422.48" y="1806" width="13.2" height="13" fill="#fff"/>
<rect x="536.36" y="1855.7" width="31.2" height="32.8" fill="#ff4040"/>
<rect x="545.36" y="1865.6" width="13.2" height="13" fill="#fff"/>
<rect x="782.6" y="1872.1" width="31.2" height="32.8" fill="#ff4040"/>
<rect x="791.6" y="1882" width="13.2" height="13" fill="#fff"/>
<rect x="1271.2" y="1945.5" width="31.2" height="32.8" fill="#ff4040"/>
<rect x="1280.2" y="1955.4" width="13.2" height="13" fill="#fff"/>
<polyline points="306.2,1863.3 336.92,1888.7 367.64,1905.6 429.08,1905.6 551.96,1911.1 798.2,1900.2 1286.8,1917" fill="none" stroke="#0070e0" stroke-width="9.0" stroke-linejoin="round"/>
<path d="M306.2,1844.13 L322.8,1872.88 L289.6,1872.88 Z" fill="#fff" stroke="#0070e0" stroke-width="9.8" stroke-linejoin="round"/>
<path d="M336.92,1869.53 L353.52,1898.28 L320.32,1898.28 Z" fill="#fff" stroke="#0070e0" stroke-width="9.8" stroke-linejoin="round"/>
<path d="M367.64,1886.43 L384.24,1915.18 L351.04,1915.18 Z" fill="#fff" stroke="#0070e0" stroke-width="9.8" stroke-linejoin="round"/>
<path d="M429.08,1886.43 L445.68,1915.18 L412.48,1915.18 Z" fill="#fff" stroke="#0070e0" stroke-width="9.8" stroke-linejoin="round"/>
<path d="M551.96,1891.93 L568.56,1920.68 L535.36,1920.68 Z" fill="#fff" stroke="#0070e0" stroke-width="9.8" stroke-linejoin="round"/>
<path d="M798.2,1881.03 L814.8,1909.78 L781.6,1909.78 Z" fill="#fff" stroke="#0070e0" stroke-width="9.8" stroke-linejoin="round"/>
<path d="M1286.8,1897.83 L1303.4,1926.58 L1270.2,1926.58 Z" fill="#fff" stroke="#0070e0" stroke-width="9.8" stroke-linejoin="round"/>
<rect x="207.1" y="1551.1" width="5.8" height="451.5" fill="#000"/>
<rect x="1455.1" y="1551.1" width="5.8" height="451.5" fill="#000"/>
<rect x="207.1" y="1551.1" width="1253.8" height="7.4" fill="#000"/>
<rect x="207.1" y="1995.2" width="1253.8" height="7.4" fill="#000"/>
<rect x="199.9" y="1551.5" width="10.1" height="6.6" fill="#000"/>
<rect x="199.9" y="1644.8" width="10.1" height="6.6" fill="#000"/>
<rect x="199.9" y="1738.1" width="10.1" height="6.6" fill="#000"/>
<rect x="199.9" y="1831.4" width="10.1" height="6.6" fill="#000"/>
<rect x="199.9" y="1924.7" width="10.1" height="6.6" fill="#000"/>
<rect x="204.9" y="1598.15" width="5.1" height="6.6" fill="#000"/>
<rect x="204.9" y="1691.45" width="5.1" height="6.6" fill="#000"/>
<rect x="204.9" y="1784.75" width="5.1" height="6.6" fill="#000"/>
<rect x="204.9" y="1878.05" width="5.1" height="6.6" fill="#000"/>
<rect x="204.9" y="1971.35" width="5.1" height="6.6" fill="#000"/>
<rect x="302.8" y="1998.9" width="6.8" height="11.1" fill="#000"/>
<rect x="494.8" y="1998.9" width="6.8" height="11.1" fill="#000"/>
<rect x="686.8" y="1998.9" width="6.8" height="11.1" fill="#000"/>
<rect x="878.8" y="1998.9" width="6.8" height="11.1" fill="#000"/>
<rect x="1070.8" y="1998.9" width="6.8" height="11.1" fill="#000"/>
<rect x="1262.8" y="1998.9" width="6.8" height="11.1" fill="#000"/>
<rect x="1454.8" y="1998.9" width="6.8" height="11.1" fill="#000"/>
<rect x="207" y="1998.9" width="6.4" height="5.7" fill="#000"/>
<rect x="399" y="1998.9" width="6.4" height="5.7" fill="#000"/>
<rect x="591" y="1998.9" width="6.4" height="5.7" fill="#000"/>
<rect x="783" y="1998.9" width="6.4" height="5.7" fill="#000"/>
<rect x="975" y="1998.9" width="6.4" height="5.7" fill="#000"/>
<rect x="1167" y="1998.9" width="6.4" height="5.7" fill="#000"/>
<rect x="1359" y="1998.9" width="6.4" height="5.7" fill="#000"/>
<text transform="translate(123.39,1573.4) scale(0.9720,1)" font-family="Liberation Sans, Arial, Helvetica, sans-serif" font-weight="bold" font-size="63" fill="#000">22</text>
<text transform="translate(123.39,1666.7) scale(0.9720,1)" font-family="Liberation Sans, Arial, Helvetica, sans-serif" font-weight="bold" font-size="63" fill="#000">20</text>
<clipPath id="k15"><path clip-rule="evenodd" d="M-50,-75.6 H126 V31.5 H-50 Z M2.58,-7.81 H14.61 V1.23 H2.58 Z M23.44,-7.81 H34.67 V1.23 H23.44 Z"/></clipPath><text transform="translate(123.39,1760) scale(0.9720,1)" clip-path="url(#k15)" font-family="Liberation Sans, Arial, Helvetica, sans-serif" font-weight="bold" font-size="63" fill="#000">18</text>
<clipPath id="k16"><path clip-rule="evenodd" d="M-50,-75.6 H126 V31.5 H-50 Z M2.58,-7.81 H14.61 V1.23 H2.58 Z M23.44,-7.81 H34.67 V1.23 H23.44 Z"/></clipPath><text transform="translate(123.39,1853.3) scale(0.9720,1)" clip-path="url(#k16)" font-family="Liberation Sans, Arial, Helvetica, sans-serif" font-weight="bold" font-size="63" fill="#000">16</text>
<clipPath id="k17"><path clip-rule="evenodd" d="M-50,-75.6 H126 V31.5 H-50 Z M2.58,-7.81 H14.61 V1.23 H2.58 Z M23.44,-7.81 H34.67 V1.23 H23.44 Z"/></clipPath><text transform="translate(123.39,1946.6) scale(0.9720,1)" clip-path="url(#k17)" font-family="Liberation Sans, Arial, Helvetica, sans-serif" font-weight="bold" font-size="63" fill="#000">14</text>
<text transform="translate(263.84,2066.6) scale(0.9720,1)" font-family="Liberation Sans, Arial, Helvetica, sans-serif" font-weight="bold" font-size="63" fill="#000">0.0</text>
<text transform="translate(455.84,2066.6) scale(0.9720,1)" font-family="Liberation Sans, Arial, Helvetica, sans-serif" font-weight="bold" font-size="63" fill="#000">0.5</text>
<clipPath id="k18"><path clip-rule="evenodd" d="M-50,-75.6 H189 V31.5 H-50 Z M2.58,-7.81 H14.61 V1.23 H2.58 Z M23.44,-7.81 H34.67 V1.23 H23.44 Z"/></clipPath><text transform="translate(647.84,2066.6) scale(0.9720,1)" clip-path="url(#k18)" font-family="Liberation Sans, Arial, Helvetica, sans-serif" font-weight="bold" font-size="63" fill="#000">1.0</text>
<clipPath id="k19"><path clip-rule="evenodd" d="M-50,-75.6 H189 V31.5 H-50 Z M2.58,-7.81 H14.61 V1.23 H2.58 Z M23.44,-7.81 H34.67 V1.23 H23.44 Z"/></clipPath><text transform="translate(839.84,2066.6) scale(0.9720,1)" clip-path="url(#k19)" font-family="Liberation Sans, Arial, Helvetica, sans-serif" font-weight="bold" font-size="63" fill="#000">1.5</text>
<text transform="translate(1031.84,2066.6) scale(0.9720,1)" font-family="Liberation Sans, Arial, Helvetica, sans-serif" font-weight="bold" font-size="63" fill="#000">2.0</text>
<text transform="translate(1223.84,2066.6) scale(0.9720,1)" font-family="Liberation Sans, Arial, Helvetica, sans-serif" font-weight="bold" font-size="63" fill="#000">2.5</text>
<text transform="translate(1415.84,2066.6) scale(0.9720,1)" font-family="Liberation Sans, Arial, Helvetica, sans-serif" font-weight="bold" font-size="63" fill="#000">3.0</text>
<text transform="translate(507.87,2114.8) scale(0.9684,1)" font-family="Liberation Sans, Arial, Helvetica, sans-serif" font-weight="bold" font-size="57.68" fill="#000">Light Intensity (mW/cm<tspan dy="-0.69em" font-size="0.62em">2</tspan><tspan dy="0.428em">)</tspan></text>
<text transform="translate(103.03,1883.51) rotate(-90) scale(1.0149,1)" font-family="Liberation Sans, Arial, Helvetica, sans-serif" font-weight="bold" font-size="69.17" fill="#000">-</text>
<text transform="translate(100,1861.27) rotate(-90) scale(0.9972,1)" font-family="Liberation Sans, Arial, Helvetica, sans-serif" font-weight="bold" font-style="italic" font-size="62.17" fill="#000">V</text>
<text transform="translate(120.79,1822.8) rotate(-90) scale(0.9891,1)" font-family="Liberation Sans, Arial, Helvetica, sans-serif" font-weight="bold" font-size="60.54" fill="#000">th</text>
<text transform="translate(99.98,1749.64) rotate(-90) scale(0.9939,1)" font-family="Liberation Sans, Arial, Helvetica, sans-serif" font-weight="bold" font-size="59.14" fill="#000">(V)</text>
<line x1="1183.3" y1="1596.2" x2="1267.9" y2="1596.2" stroke="#505050" stroke-width="8.8" stroke-linecap="round"/>
<circle cx="1224.8" cy="1596.2" r="10.25" fill="#fff" stroke="#505050" stroke-width="8.5"/>
<clipPath id="k20"><path clip-rule="evenodd" d="M-50,-54.08 H135.21 V22.54 H-50 Z M1.85,-5.59 H10.45 V0.88 H1.85 Z M16.77,-5.59 H24.8 V0.88 H16.77 Z"/></clipPath><text transform="translate(1279.04,1604.75) scale(1.0005,1)" clip-path="url(#k20)" font-family="Liberation Sans, Arial, Helvetica, sans-serif" font-weight="bold" font-size="45.07" fill="#000">1:0</text>
<line x1="1183.3" y1="1652.5" x2="1267.9" y2="1652.5" stroke="#0070e0" stroke-width="8.8" stroke-linecap="round"/>
<path d="M1224.8,1637.13 L1238.85,1661.46 L1210.75,1661.46 Z" fill="#fff" stroke="#0070e0" stroke-width="9.5" stroke-linejoin="round"/>
<clipPath id="k21"><path clip-rule="evenodd" d="M-50,-54.08 H270.42 V22.54 H-50 Z M1.85,-5.59 H10.45 V0.88 H1.85 Z M16.77,-5.59 H24.8 V0.88 H16.77 Z M104.58,-5.59 H113.18 V0.88 H104.58 Z M119.5,-5.59 H127.53 V0.88 H119.5 Z"/></clipPath><text transform="translate(1279.03,1661.05) scale(1.0045,1)" clip-path="url(#k21)" font-family="Liberation Sans, Arial, Helvetica, sans-serif" font-weight="bold" font-size="45.07" fill="#000">1:0.01</text>
<line x1="1183.3" y1="1709.3" x2="1267.9" y2="1709.3" stroke="#ff4040" stroke-width="8.8" stroke-linecap="round"/>
<rect x="1216.2" y="1700.7" width="17.2" height="17.2" fill="#fff" stroke="#ff4040" stroke-width="8.8"/>
<clipPath id="k22"><path clip-rule="evenodd" d="M-50,-54.08 H225.35 V22.54 H-50 Z M1.85,-5.59 H10.45 V0.88 H1.85 Z M16.77,-5.59 H24.8 V0.88 H16.77 Z"/></clipPath><text transform="translate(1279.06,1717.85) scale(0.9959,1)" clip-path="url(#k22)" font-family="Liberation Sans, Arial, Helvetica, sans-serif" font-weight="bold" font-size="45.07" fill="#000">1:0.2</text>
</svg>
</body>
</html>
